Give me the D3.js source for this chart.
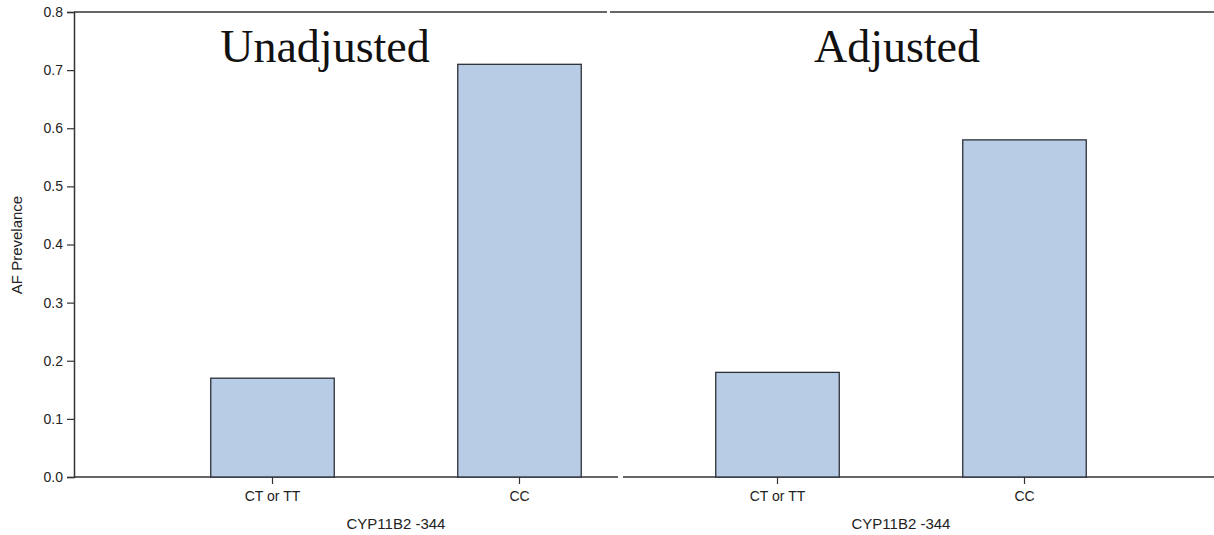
<!DOCTYPE html>
<html><head><meta charset="utf-8">
<script src="https://cdn.jsdelivr.net/npm/d3@7"></script>
<style>body{margin:0;background:#fff}svg{display:block}</style>
</head><body>
<svg id="c" width="1214" height="535"></svg>
<script>
const categories = ["CT or TT", "CC"];
const unadjusted = [0.17, 0.71];
const adjusted = [0.18, 0.58];
const panelTitles = ["Unadjusted", "Adjusted"];
const yTicks = [0, 0.1, 0.2, 0.3, 0.4, 0.5, 0.6, 0.7, 0.8];
const xTitle = "CYP11B2 -344";
const yTitle = "AF Prevelance";

const svg = d3.select("#c");
const y = d3.scaleLinear().domain([0, 0.8]).range([477, 12]);
const axisColor = "#333";
const sans = "Liberation Sans, Arial, sans-serif";

svg.append("line").attr("x1", 74).attr("x2", 607).attr("y1", y(0.8)).attr("y2", y(0.8)).attr("stroke", axisColor).attr("stroke-width", 1.5);
svg.append("line").attr("x1", 610).attr("x2", 1214).attr("y1", y(0.8)).attr("y2", y(0.8)).attr("stroke", axisColor).attr("stroke-width", 1.5);
svg.append("line").attr("x1", 74).attr("x2", 618).attr("y1", y(0)).attr("y2", y(0)).attr("stroke", axisColor).attr("stroke-width", 1.5);
svg.append("line").attr("x1", 623).attr("x2", 1214).attr("y1", y(0)).attr("y2", y(0)).attr("stroke", axisColor).attr("stroke-width", 1.5);

const yAxis = svg.append("g").attr("transform", "translate(74,0)")
  .call(d3.axisLeft(y).tickValues(yTicks).tickFormat(d3.format(".1f")).tickSize(7).tickPadding(4));
yAxis.select(".domain").attr("stroke", axisColor).attr("stroke-width", 1.5);
yAxis.selectAll(".tick line").attr("stroke", axisColor).attr("stroke-width", 1.2);
yAxis.selectAll("text").attr("font-family", sans).attr("font-size", 14).attr("fill", "#222");

svg.append("text").attr("transform", "translate(22,245) rotate(-90)")
  .attr("text-anchor", "middle").attr("font-family", sans)
  .attr("font-size", 15).attr("fill", "#222").text(yTitle);

const panels = [
  {values: unadjusted, title: panelTitles[0], range: [149, 643], titleX: 325},
  {values: adjusted, title: panelTitles[1], range: [654, 1148], titleX: 897}
];

panels.forEach(p => {
  const x = d3.scaleBand().domain(categories).range(p.range).paddingInner(0.5).paddingOuter(0.25);
  const g = svg.append("g");
  g.selectAll("rect").data(categories).enter().append("rect")
    .attr("x", d => x(d)).attr("width", x.bandwidth())
    .attr("y", (d, i) => y(p.values[i])).attr("height", (d, i) => y(0) - y(p.values[i]))
    .attr("fill", "#b8cde5").attr("stroke", "#2b2f36").attr("stroke-width", 1.3);
  const xa = svg.append("g").attr("transform", `translate(0,${y(0)})`)
    .call(d3.axisBottom(x).tickSize(7).tickPadding(7).tickSizeOuter(0));
  xa.select(".domain").remove();
  xa.selectAll(".tick line").attr("stroke", axisColor).attr("stroke-width", 1.2);
  xa.selectAll("text").attr("font-family", sans).attr("font-size", 14).attr("fill", "#222");
  const cx = (p.range[0] + p.range[1]) / 2;
  svg.append("text").attr("x", cx).attr("y", 529).attr("text-anchor", "middle")
    .attr("font-family", sans).attr("font-size", 15).attr("fill", "#222").text(xTitle);
  svg.append("text").attr("x", p.titleX).attr("y", 62).attr("text-anchor", "middle")
    .attr("font-family", "Liberation Serif, Times New Roman, serif").attr("font-size", 46).attr("fill", "#111").text(p.title);
});
</script>
</body></html>
